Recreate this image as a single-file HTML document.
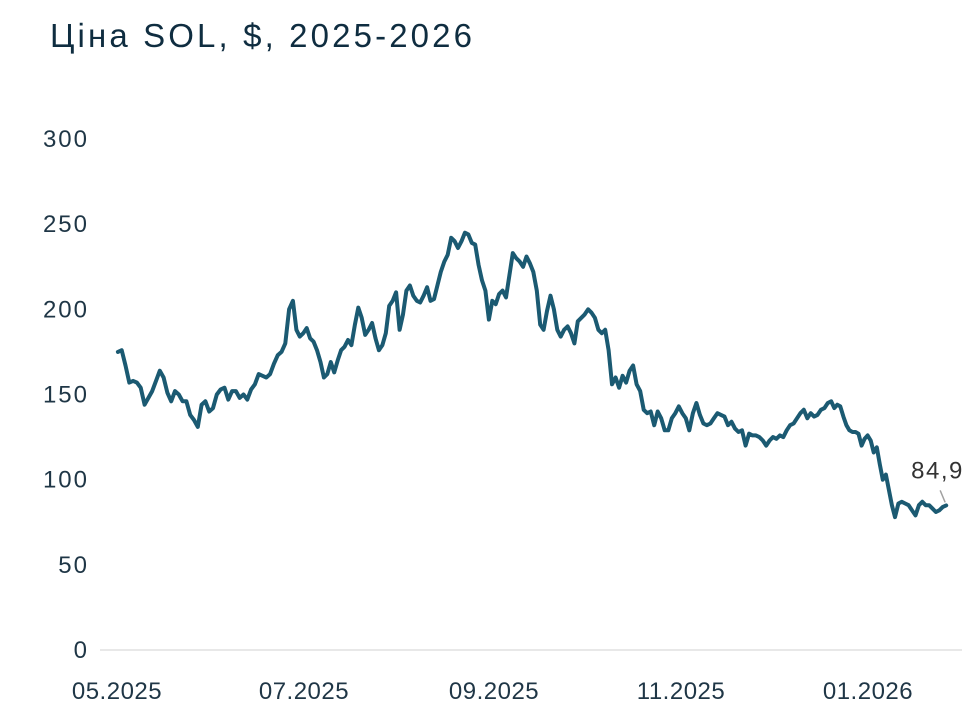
<!DOCTYPE html>
<html><head><meta charset="utf-8">
<style>
html,body{margin:0;padding:0;background:#fff;}
svg{display:block;font-family:"Liberation Sans",sans-serif;}
</style></head>
<body>
<svg id="chart" width="980" height="713" viewBox="0 0 980 713">
<text x="50" y="47" font-size="33" fill="#0f2d40" textLength="422" lengthAdjust="spacing">Ціна SOL, $, 2025-2026</text>
<g id="yticks"></g>
<g id="xticks"></g>
<line x1="100" y1="650" x2="962" y2="650" stroke="#d0d0d0" stroke-width="1"/>
<path id="line" fill="none" stroke="#1b5a72" stroke-width="4" stroke-linejoin="round" stroke-linecap="round"/>
<line id="leader" stroke="#a0a0a0" stroke-width="1.5"/>
<text id="lastLabel" font-size="24" fill="#333" letter-spacing="1.5"></text>
</svg>
<script>
const yTicks=[0,50,100,150,200,250,300];
const xTickLabels=["05.2025","07.2025","09.2025","11.2025","01.2026"];
const xTickDays=[0,61,123,184,245];
const prices=[175,176,167,157,158,157,154,144,148,152,158,164,160,151,146,152,150,146,146,138,135,131,144,146,140,142,150,153,154,147,152,152,148,150,147,153,156,162,161,160,162,168,173,175,180,200,205,188,184,186,189,183,181,176,169,160,162,169,163,170,176,178,182,179,191,201,195,185,188,192,183,176,179,186,202,205,210,188,197,211,214,208,205,204,208,213,205,206,214,222,228,232,242,240,236,240,245,244,239,238,226,217,211,194,205,203,209,211,207,220,233,230,228,225,231,227,222,211,191,188,199,208,200,188,184,188,190,186,180,193,195,197,200,198,195,188,186,188,176,156,160,154,161,157,164,167,156,152,141,139,140,132,140,136,129,129,136,139,143,139,136,129,139,145,138,133,132,133,136,139,138,137,132,134,130,128,129,120,127,126,126,125,123,120,123,125,124,126,125,129,132,133,136,139,141,136,139,137,138,141,142,145,146,142,144,143,137,132,129,128,128,127,120,124,126,123,116,119,109,100,103,94,85,78,86,87,86,85,82,79,85,87,85,85,83,81,82,84,84.9];
const anchorIdx=[0,46,96,139,178,202,223,238];
const anchorDay=[0.3,57.4,113.5,161.5,206.2,233,253.8,270.5];
const X0=117,PX_PER_DAY=(868-117)/245,Y0=650,PX_PER_UNIT=(650-139)/300;
const xScale=d=>X0+d*PX_PER_DAY;
const yScale=v=>Y0-v*PX_PER_UNIT;
function dayOf(i){
  for(let k=0;k<anchorIdx.length-1;k++){
    if(i<=anchorIdx[k+1]){
      const t=(i-anchorIdx[k])/(anchorIdx[k+1]-anchorIdx[k]);
      return anchorDay[k]+t*(anchorDay[k+1]-anchorDay[k]);
    }
  }
  const k=anchorIdx.length-1;
  return anchorDay[k]+(i-anchorIdx[k])*1;
}
const ns="http://www.w3.org/2000/svg";
const yg=document.getElementById('yticks');
yTicks.forEach(t=>{
  const el=document.createElementNS(ns,'text');
  el.setAttribute('x',89);el.setAttribute('y',yScale(t)+8);
  el.setAttribute('text-anchor','end');el.setAttribute('font-size','24');el.setAttribute('fill','#1f3646');
  el.setAttribute('letter-spacing','2');
  el.textContent=t;
  
  
  yg.appendChild(el);
});
const xg=document.getElementById('xticks');
xTickLabels.forEach((l,i)=>{
  const el=document.createElementNS(ns,'text');
  el.setAttribute('x',xScale(xTickDays[i]));el.setAttribute('y',699);
  el.setAttribute('text-anchor','middle');el.setAttribute('font-size','24');el.setAttribute('fill','#1f3646');
  el.setAttribute('letter-spacing','0.5');
  el.textContent=l;
  
  
  xg.appendChild(el);
});
const n=prices.length;
let d='';
prices.forEach((v,i)=>{
  d+=(i?'L':'M')+xScale(dayOf(i)).toFixed(1)+','+yScale(v).toFixed(1);
});
document.getElementById('line').setAttribute('d',d);
const lx=xScale(dayOf(n-1)),ly=yScale(prices[n-1]);
const ld=document.getElementById('leader');
ld.setAttribute('x1',lx-6);ld.setAttribute('y1',ly-15);ld.setAttribute('x2',lx-1);ld.setAttribute('y2',ly-3);
const lab=document.getElementById('lastLabel');
lab.setAttribute('x',lx-35);lab.setAttribute('y',ly-27);
lab.textContent=String(prices[n-1]).replace('.',',');
</script>
</body></html>
